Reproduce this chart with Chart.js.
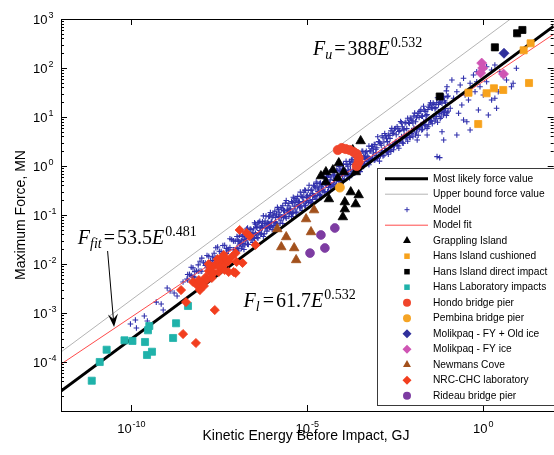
<!DOCTYPE html>
<html><head><meta charset="utf-8">
<script src="https://cdn.jsdelivr.net/npm/chart.js@4.4.1/dist/chart.umd.min.js"></script>
<style>
html,body{margin:0;padding:0;background:#fff;overflow:hidden;width:554px;height:455px;}
#wrap{position:relative;width:560px;height:455px;}
canvas{display:block;}
</style></head><body>
<div id="wrap"><canvas id="c" width="560" height="455"></canvas></div>
<script>
// ---------------- data (E in GJ, F in MN) ----------------
const xTickValues = [1e-10, 1e-5, 1e0];
const xTickExponents = ['-10', '-5', '0'];
const yTickValues = [1e-4, 1e-3, 1e-2, 1e-1, 1e0, 1e1, 1e2, 1e3];
const yTickExponents = ['-4', '-3', '-2', '-1', '0', '1', '2', '3'];

const lineE = [1e-12, 1e2];
const mostLikelyF = [2.55e-5, 715];
const upperBoundF = [1.60e-4, 4496];
const modelFitF = [9.04e-5, 490];

const grapplingIsland = [[3.27e-4,3.24],[1.95e-4,2.12],[7.83e-5,1.15],[5.31e-5,0.828],[3.37e-5,0.755],[1.08e-4,0.755],[2.36e-4,0.755],[2.43e-5,0.625],[3.37e-5,0.471],[7.35e-5,0.569],[1.71e-4,0.294],[2.87e-4,0.256],[4.09e-5,0.212],[1.16e-4,0.184],[2.36e-4,0.167],[1.16e-4,0.132],[1.02e-4,0.091]];
const hansCushioned = [[22.1,319],[14.0,230],[0.379,31.3],[1.24,30.5],[2.0,38.5],[3.68,35.6],[19.9,49.4],[0.716,7.19]];
const hansDirect = [[9.12,511],[12.9,597],[2.13,264],[0.0577,26.2]];
const hansLab = [[7.48e-12,4.15e-5],[1.26e-11,1.0e-4],[1.98e-11,1.78e-4],[6.37e-11,2.77e-4],[1.07e-10,2.69e-4],[2.44e-10,2.56e-4],[2.78e-10,1.39e-4],[3.85e-10,1.62e-4],[2.96e-10,4.44e-4],[3.23e-10,5.43e-4],[1.53e-9,3.09e-4],[1.86e-9,6.17e-4],[4.06e-9,1.39e-3]];
const hondo = [[7.35e-5,2.12],[9.53e-5,2.33],[1.23e-4,2.22],[1.60e-4,2.12],[2.07e-4,1.93],[2.52e-4,1.76],[2.87e-4,1.46],[2.87e-4,1.21],[2.52e-4,1.0]];
const pembina = [[8.36e-5,0.364]];
const molikpaqOld = [[3.87,200]];
const molikpaqFY = [[0.90,126],[0.96,100],[0.84,79.1],[3.75,75.5]];
const newmansCove = [[1.40e-6,5.18e-2],[2.51e-6,3.56e-2],[1.82e-6,2.22e-2],[4.22e-6,2.12e-2],[4.81e-6,1.21e-2],[9.20e-6,8.28e-2],[1.27e-5,4.50e-2],[1.55e-5,0.126]];
const rideau = [[6.04e-5,5.43e-2],[2.43e-5,3.91e-2],[3.15e-5,2.12e-2],[1.19e-5,1.67e-2]];
const nrcLab = [[2.58e-9,2.94e-3],[3.56e-9,1.67e-3],[2.94e-9,3.72e-4],[6.82e-9,2.44e-4],[8.85e-9,2.94e-3],[2.34e-8,1.15e-3],[5.62e-9,4.30e-3],[7.28e-9,3.72e-3],[1.01e-8,4.30e-3],[1.31e-8,5.43e-3],[1.39e-8,4.71e-3],[1.81e-8,8.28e-3],[1.93e-8,5.18e-3],[2.20e-8,6.55e-3],[2.50e-8,9.55e-3],[3.04e-8,6.87e-3],[3.46e-8,8.69e-3],[3.69e-8,1.32e-2],[4.21e-8,1.53e-2],[4.79e-8,1.05e-2],[5.11e-8,1.21e-2],[5.82e-8,6.87e-3],[7.06e-8,1.39e-2],[9.16e-8,6.55e-3],[9.16e-8,1.67e-2],[9.77e-8,1.10e-2],[1.19e-7,4.94e-2],[1.44e-7,1.05e-2],[8.05e-8,6.87e-3],[1.87e-7,4.30e-2],[2.28e-7,3.72e-2],[3.36e-7,2.44e-2],[8.30e-9,4.71e-3],[1.59e-8,7.19e-3],[3.04e-8,1.10e-2],[1.15e-8,3.56e-3],[4.49e-8,7.55e-3],[3.16e-8,8.91e-3],[2.0e-8,6.31e-3],[5.62e-8,1.12e-2],[2.82e-8,1.26e-2],[1.58e-8,1.0e-2]];

const modelLow = [[9.4e-11,5.97e-4],[1.30e-10,7.2e-4],[1.39e-10,4.94e-4],[2.33e-10,8.69e-4],[2.84e-10,6.87e-4],[5.09e-10,1.67e-3],[7.03e-10,1.53e-3],[8.02e-10,1.15e-3],[1.04e-9,3.24e-3],[1.26e-9,2.81e-3],[1.64e-9,2.56e-3],[1.99e-9,2.22e-3],[2.94e-9,4.30e-3],[3.80e-9,4.94e-3]];
const modelBand = [
[3.98e-9,6.1e-3],[3.98e-9,4.7e-3],[5.01e-9,8.6e-3],[5.01e-9,5.8e-3],[6.31e-9,7.0e-3],[6.31e-9,5.4e-3],[7.94e-9,9.6e-3],[7.94e-9,7.1e-3],
[1.0e-8,1.32e-2],[1.0e-8,7.1e-3],[1.26e-8,1.04e-2],[1.26e-8,9.3e-3],[1.58e-8,1.44e-2],[1.58e-8,8.6e-3],[2.0e-8,1.40e-2],[2.0e-8,1.08e-2],
[2.51e-8,2.15e-2],[2.51e-8,1.36e-2],[3.16e-8,1.82e-2],[3.16e-8,1.23e-2],[3.98e-8,2.39e-2],[3.98e-8,1.66e-2],[5.01e-8,2.07e-2],[5.01e-8,1.65e-2],
[6.31e-8,3.27e-2],[6.31e-8,2.16e-2],[7.94e-8,2.97e-2],[7.94e-8,1.96e-2],
[1.0e-7,3.64e-2],[1.0e-7,2.14e-2],[1.12e-7,2.92e-2],[1.12e-7,1.84e-2],[1.26e-7,4.67e-2],[1.26e-7,2.63e-2],[1.41e-7,3.66e-2],[1.41e-7,2.31e-2],
[1.58e-7,3.15e-2],[1.58e-7,1.98e-2],[1.78e-7,4.48e-2],[1.78e-7,2.96e-2],[2.0e-7,5.44e-2],[2.0e-7,2.54e-2],[2.24e-7,4.26e-2],[2.24e-7,3.63e-2],
[2.51e-7,5.05e-2],[2.51e-7,3.19e-2],[2.82e-7,4.34e-2],[2.82e-7,2.74e-2],[3.16e-7,6.95e-2],[3.16e-7,3.33e-2],[3.55e-7,5.57e-2],[3.55e-7,3.94e-2],
[3.98e-7,6.92e-2],[3.98e-7,3.39e-2],[4.47e-7,7.48e-2],[4.47e-7,4.83e-2],[5.01e-7,6.0e-2],[5.01e-7,4.25e-2],[5.62e-7,9.6e-2],[5.62e-7,3.65e-2],
[6.31e-7,7.52e-2],[6.31e-7,5.45e-2],[7.08e-7,6.46e-2],[7.08e-7,4.68e-2],[7.94e-7,9.21e-2],[7.94e-7,6.67e-2],[8.91e-7,0.112],[8.91e-7,5.87e-2],
[1.0e-6,8.76e-2],[1.0e-6,5.04e-2],[1.12e-6,0.104],[1.12e-6,6.11e-2],[1.26e-6,8.92e-2],[1.26e-6,7.25e-2],[1.41e-6,0.143],[1.41e-6,6.23e-2],
[1.58e-6,0.114],[1.58e-6,8.88e-2],[1.78e-6,0.142],[1.78e-6,7.81e-2],[2.0e-6,0.154],[2.0e-6,6.71e-2],[2.24e-6,0.123],[2.24e-6,0.100],
[2.51e-6,0.197],[2.51e-6,8.61e-2],[2.82e-6,0.154],[2.82e-6,0.123],[3.16e-6,0.133],[3.16e-6,0.108],[3.55e-6,0.189],[3.55e-6,9.27e-2],
[3.98e-6,0.230],[3.98e-6,0.112],[4.47e-6,0.180],[4.47e-6,0.133],[5.01e-6,0.213],[5.01e-6,0.115],[5.62e-6,0.183],[5.62e-6,0.163],
[6.31e-6,0.293],[6.31e-6,0.144],[7.08e-6,0.235],[7.08e-6,0.123],[7.94e-6,0.292],[7.94e-6,0.184],[8.91e-6,0.316],[8.91e-6,0.158],
[1.0e-5,0.253],[1.0e-5,0.226],[1.12e-5,0.405],[1.12e-5,0.198],[1.26e-5,0.317],[1.26e-5,0.170],[1.41e-5,0.273],[1.41e-5,0.207],
[1.58e-5,0.389],[1.58e-5,0.245],[1.78e-5,0.472],[1.78e-5,0.211],[2.0e-5,0.370],[2.0e-5,0.300],[2.24e-5,0.438],[2.24e-5,0.264],
[2.51e-5,0.376],[2.51e-5,0.227],[2.82e-5,0.602],[2.82e-5,0.339],[3.16e-5,0.483],[3.16e-5,0.291],[3.55e-5,0.600],[3.55e-5,0.415],
[3.98e-5,0.649],[3.98e-5,0.365],[4.47e-5,0.520],[4.47e-5,0.313],[5.01e-5,0.832],[5.01e-5,0.380],[5.62e-5,0.652],[5.62e-5,0.451],
[6.31e-5,0.560],[6.31e-5,0.388],[7.08e-5,0.798],[7.08e-5,0.552],[7.94e-5,0.969],[7.94e-5,0.486],[8.91e-5,0.759],[8.91e-5,0.417],
[1.0e-4,0.900],[1.0e-4,0.623],[1.12e-4,0.773],[1.12e-4,0.535],[1.26e-4,1.24],[1.26e-4,0.763],[1.41e-4,0.992],[1.41e-4,0.671],
[1.58e-4,1.23],[1.58e-4,0.576],[1.78e-4,1.33],[1.78e-4,0.699],[2.0e-4,1.07],[2.0e-4,0.829],[2.24e-4,1.71],[2.24e-4,0.712],
[2.51e-4,1.34],[2.51e-4,1.02],[2.82e-4,1.15],[2.82e-4,0.893],[3.16e-4,1.64],[3.16e-4,0.767],[3.55e-4,1.99],[3.55e-4,1.15],
[3.98e-4,1.56],[3.98e-4,0.984],[4.47e-4,1.85],[4.47e-4,1.40],[5.01e-4,1.59],[5.01e-4,1.23],[5.62e-4,2.54],[5.62e-4,1.06],
[6.31e-4,2.04],[6.31e-4,1.29],[7.08e-4,2.53],[7.08e-4,1.53],[7.94e-4,2.74],[7.94e-4,1.31],[8.91e-4,2.19],[8.91e-4,1.87],
[1.0e-3,3.94],[1.0e-3,1.46],[1.12e-3,3.09],[1.12e-3,1.26],[1.26e-3,2.65],[1.26e-3,1.88],[1.41e-3,3.78],[1.41e-3,1.61],
[1.58e-3,4.59],[1.58e-3,2.30],[1.78e-3,3.59],[1.78e-3,2.02],[2.0e-3,4.26],[2.0e-3,1.74],[2.24e-3,3.66],[2.24e-3,2.11],
[2.51e-3,5.86],[2.51e-3,2.50],[2.82e-3,4.70],[2.82e-3,2.15],[3.16e-3,5.83],[3.16e-3,3.06],[3.55e-3,6.31],[3.55e-3,2.69],
[3.98e-3,5.06],[3.98e-3,2.31],[4.47e-3,8.09],[4.47e-3,3.45],[5.01e-3,6.34],[5.01e-3,2.97],[5.62e-3,5.45],[5.62e-3,4.23],
[6.31e-3,7.77],[6.31e-3,3.72],[7.08e-3,9.42],[7.08e-3,3.19],[7.94e-3,7.38],[7.94e-3,3.88],[8.91e-3,8.76],[8.91e-3,4.60],
[1.0e-2,7.52],[1.0e-2,3.95],[1.12e-2,12.0],[1.12e-2,5.63],[1.26e-2,9.65],[1.26e-2,4.95],[1.41e-2,12.0],[1.41e-2,4.25],
[1.58e-2,13.0],[1.58e-2,6.35],[1.78e-2,10.4],[1.78e-2,5.45],[2.0e-2,16.6],[2.0e-2,7.78],[2.24e-2,13.0],[2.24e-2,6.83],
[2.51e-2,11.2],[2.51e-2,5.87],[2.82e-2,15.9],[2.82e-2,7.13],[3.16e-2,19.4],[3.16e-2,8.45],[3.55e-2,15.2],[3.55e-2,7.26],
[3.98e-2,18.0],[3.98e-2,10.4],[4.47e-2,15.5],[4.47e-2,9.10],[5.01e-2,24.7],[5.01e-2,7.82],[5.62e-2,19.8],[5.62e-2,11.7],
[6.31e-2,24.6],[6.31e-2,10.0],[7.08e-2,26.6],[7.08e-2,14.3],[7.94e-2,21.3],[7.94e-2,12.6],[8.91e-2,34.1],[8.91e-2,10.8],
[0.1,26.8],[0.1,13.1]];
const modelBand2 = [
[4.47e-9,6.19e-3],[5.62e-9,8.32e-3],[5.62e-9,5.50e-3],[7.08e-9,7.22e-3],[8.91e-9,1.14e-2],[8.91e-9,7.18e-3],[1.12e-8,1.06e-2],
[1.41e-8,1.49e-2],[1.41e-8,8.37e-3],[1.78e-8,1.18e-2],[2.24e-8,1.66e-2],[2.24e-8,1.17e-2],[2.82e-8,2.22e-2],[3.55e-8,1.80e-2],
[3.55e-8,1.27e-2],[4.47e-8,2.42e-2],[5.62e-8,2.00e-2],[5.62e-8,1.87e-2],[7.08e-8,3.16e-2],[8.91e-8,2.93e-2],[8.91e-8,1.94e-2],
[1.06e-7,3.11e-2],[1.06e-7,2.06e-2],[1.19e-7,3.87e-2],[1.19e-7,2.55e-2],[1.33e-7,2.96e-2],[1.33e-7,2.10e-2],[1.50e-7,3.94e-2],[1.50e-7,2.60e-2],
[1.68e-7,3.63e-2],[1.68e-7,2.45e-2],[1.88e-7,5.17e-2],[1.88e-7,3.42e-2],[2.11e-7,3.87e-2],[2.11e-7,2.50e-2],[2.37e-7,5.15e-2],[2.37e-7,3.40e-2],
[2.66e-7,3.94e-2],[2.66e-7,3.28e-2],[2.99e-7,5.25e-2],[2.99e-7,3.39e-2],[3.35e-7,6.51e-2],[3.35e-7,4.21e-2],[3.76e-7,5.73e-2],[3.76e-7,3.45e-2],
[4.22e-7,7.11e-2],[4.22e-7,4.29e-2],[4.73e-7,5.45e-2],[4.73e-7,4.04e-2],[5.31e-7,7.25e-2],[5.31e-7,5.63e-2],[5.96e-7,6.67e-2],[5.96e-7,4.11e-2],
[6.68e-7,9.51e-2],[6.68e-7,5.60e-2],[7.50e-7,7.11e-2],[7.50e-7,5.40e-2],[8.41e-7,9.47e-2],[8.41e-7,5.57e-2],[9.44e-7,7.25e-2],[9.44e-7,6.92e-2],
[1.06e-6,9.65e-2],[1.06e-6,5.68e-2],[1.19e-6,0.120],[1.19e-6,7.05e-2],[1.33e-6,0.105],[1.33e-6,6.65e-2],[1.50e-6,0.131],[1.50e-6,9.26e-2],
[1.68e-6,0.100],[1.68e-6,6.77e-2],[1.88e-6,0.133],[1.88e-6,9.22e-2],[2.11e-6,0.123],[2.11e-6,8.89e-2],[2.37e-6,0.175],[2.37e-6,9.18e-2],
[2.66e-6,0.131],[2.66e-6,0.114],[2.99e-6,0.174],[2.99e-6,9.35e-2],[3.35e-6,0.133],[3.35e-6,0.116],[3.76e-6,0.177],[3.76e-6,0.109],
[4.22e-6,0.220],[4.22e-6,0.152],[4.73e-6,0.194],[4.73e-6,0.111],[5.31e-6,0.240],[5.31e-6,0.152],[5.96e-6,0.184],[5.96e-6,0.146],
[6.68e-6,0.245],[6.68e-6,0.151],[7.50e-6,0.226],[7.50e-6,0.188],[8.41e-6,0.322],[8.41e-6,0.154],[9.44e-6,0.241],[9.44e-6,0.191],
[1.06e-5,0.320],[1.06e-5,0.180],[1.19e-5,0.245],[1.19e-5,0.251],[1.33e-5,0.326],[1.33e-5,0.183],[1.50e-5,0.405],[1.50e-5,0.250],
[1.68e-5,0.356],[1.68e-5,0.241],[1.88e-5,0.442],[1.88e-5,0.249],[2.11e-5,0.339],[2.11e-5,0.309],[2.37e-5,0.450],[2.37e-5,0.253],
[2.66e-5,0.415],[2.66e-5,0.315],[2.99e-5,0.591],[2.99e-5,0.296],[3.35e-5,0.442],[3.35e-5,0.413],[3.76e-5,0.589],[3.76e-5,0.302],
[4.22e-5,0.451],[4.22e-5,0.411],[4.73e-5,0.600],[4.73e-5,0.396],[5.31e-5,0.745],[5.31e-5,0.409],[5.96e-5,0.655],[5.96e-5,0.508],
[6.68e-5,0.813],[6.68e-5,0.417],[7.50e-5,0.623],[7.50e-5,0.518],[8.41e-5,0.829],[8.41e-5,0.488],[9.44e-5,0.763],[9.44e-5,0.680],
[1.06e-4,1.09],[1.06e-4,0.497],[1.19e-4,0.814],[1.19e-4,0.677],[1.33e-4,1.08],[1.33e-4,0.652],[1.50e-4,0.829],[1.50e-4,0.674],
[1.68e-4,1.10],[1.68e-4,0.837],[1.88e-4,1.37],[1.88e-4,0.686],[2.11e-4,1.20],[2.11e-4,0.853],[2.37e-4,1.50],[2.37e-4,0.803],
[2.66e-4,1.14],[2.66e-4,1.12],[2.99e-4,1.52],[2.99e-4,0.818],[3.35e-4,1.40],[3.35e-4,1.11],[3.76e-4,2.00],[3.76e-4,1.07],
[4.22e-4,1.50],[4.22e-4,1.11],[4.73e-4,1.99],[4.73e-4,1.38],[5.31e-4,1.52],[5.31e-4,1.13],[5.96e-4,2.03],[5.96e-4,1.40],
[6.68e-4,2.52],[6.68e-4,1.32],[7.50e-4,2.21],[7.50e-4,1.84],[8.41e-4,2.75],[8.41e-4,1.35],[9.44e-4,2.36],[9.44e-4,1.63],
[1.06e-3,3.14],[1.06e-3,1.58],[1.19e-3,2.89],[1.19e-3,1.63],[1.33e-3,4.13],[1.33e-3,2.02],[1.50e-3,3.09],[1.50e-3,1.66],
[1.68e-3,4.11],[1.68e-3,2.06],[1.88e-3,3.15],[1.88e-3,1.94],[2.11e-3,4.19],[2.11e-3,2.70],[2.37e-3,5.20],[2.37e-3,1.98],
[2.66e-3,4.57],[2.66e-3,2.69],[2.99e-3,5.67],[2.99e-3,2.59],[3.35e-3,4.34],[3.35e-3,3.15],[3.76e-3,5.78],[3.76e-3,2.58],
[4.22e-3,5.32],[4.22e-3,3.21],[4.73e-3,7.59],[4.73e-3,3.98],[5.31e-3,5.68],[5.31e-3,2.91],[5.96e-3,7.55],[5.96e-3,3.96],
[6.68e-3,5.78],[6.68e-3,3.82],[7.50e-3,7.70],[7.50e-3,4.64],[8.41e-3,9.56],[8.41e-3,3.81],[9.44e-3,8.40],[9.44e-3,4.72],
[1.06e-2,10.4],[1.06e-2,5.87],[1.19e-2,7.99],[1.19e-2,4.29],[1.33e-2,10.6],[1.33e-2,5.84],[1.50e-2,9.78],[1.50e-2,5.63],
[1.68e-2,14.0],[1.68e-2,6.83],[1.88e-2,10.4],[1.88e-2,5.61],[2.11e-2,13.9],[2.11e-2,6.96],[2.37e-2,10.6],[2.37e-2,8.65],
[2.66e-2,14.2],[2.66e-2,6.32],[2.99e-2,17.6],[2.99e-2,8.61],[3.35e-2,15.4],[3.35e-2,8.30],[3.76e-2,19.2],[3.76e-2,10.1],
[4.22e-2,14.7],[4.22e-2,8.26],[4.73e-2,19.5],[4.73e-2,10.3],[5.31e-2,18.0],[5.31e-2,12.7],[5.96e-2,25.7],[5.96e-2,9.31],
[6.68e-2,19.2],[6.68e-2,12.7],[7.50e-2,25.5],[7.50e-2,12.2],[8.41e-2,19.6],[8.41e-2,14.8],[9.44e-2,26.0],[9.44e-2,12.2]];
const modelHigh = [[0.0927,41.5],[0.128,56.9],[0.177,32.8],[0.220,45.0],[0.274,61.7],[0.421,48.7],[0.525,71.9],[0.650,84.0],[0.90,91.0],[1.24,106],[1.72,91.0],[2.13,115],[2.95,84.0],[4.56,56.9],[6.30,41.5],[8.71,98.6],[0.805,41.5],[0.582,32.8],[0.379,22.2],[1.24,52.5],[1.72,22.2],[2.13,24.1],[2.66,32.8],[7.03,48.7],[0.726,13.9],[1.39,11.0],[2.38,15.1],[0.340,8.02],[0.421,5.43],[0.177,4.30],[0.0670,5.01],[0.0748,3.40],[0.0577,1.48],[0.115,15.1],[0.198,11.9],[0.0748,11.0],[0.060,20.5],[0.143,24.1],[0.245,17.6],[1.0,28.1],[3.68,66.4],[0.650,52.5],[0.304,28.1],[0.0484,1.55],[0.274,8.69],[0.0253,4.30],[0.0132,3.40]];

// annotation anchors (data coordinates)
const fuAnchor = [1.45e-5, 184];
const ffitAnchor = [3.01e-12, 2.56e-2];
const flAnchor = [1.54e-7, 1.32e-3];
const arrowTail = [2.11e-11, 1.84e-2];
const arrowTip = [3.22e-11, 5.18e-4];

// ---------------- build ----------------
const toXY = a => a.map(p => ({x: p[0], y: p[1]}));
const lineXY = f => lineE.map((e, i) => ({x: e, y: f[i]}));

function lineDs(label, f, color, w, order) {
  return {label, data: lineXY(f), showLine: true, borderColor: color, backgroundColor: color,
    borderWidth: w, pointRadius: 0, pointHoverRadius: 0, order, legendKind: 'line'};
}
function ptDs(label, pts, style, r, color, order, lr) {
  return {label, data: toXY(pts), showLine: false, pointStyle: style, pointRadius: r, pointHoverRadius: r,
    backgroundColor: color, borderColor: color, pointBorderWidth: style === 'cross' ? 1.1 : 0.8,
    order, legendKind: 'point', legendRadius: lr};
}

const dsMostLikely = lineDs('Most likely force value', mostLikelyF, '#000000', 3, 17);
const dsUpper = lineDs('Upper bound force value', upperBoundF, '#b4b4b4', 1, 20);
const dsModel = ptDs('Model', modelLow.concat(modelBand, modelBand2, modelHigh), 'cross', 2.8, 'rgb(48,48,172)', 19, 2.5);
const dsFit = lineDs('Model fit', modelFitF, '#ff4a4a', 1, 18);
const dsGrap = ptDs('Grappling Island', grapplingIsland, 'triangle', 5.5, '#000000', 6, 4.6);
const dsHansC = ptDs('Hans Island cushioned', hansCushioned, 'rect', 5, '#f7a21c', 3, 3.9);
const dsHansD = ptDs('Hans Island direct impact', hansDirect, 'rect', 5, '#000000', 2, 3.9);
const dsHansL = ptDs('Hans Laboratory impacts', hansLab, 'rect', 5, '#1fb2aa', 8, 3.9);
const dsHondo = ptDs('Hondo bridge pier', hondo, 'circle', 4.6, '#f0452b', 5, 4);
const dsPemb = ptDs('Pembina bridge pier', pembina, 'circle', 4.6, '#f5a425', 4, 4);
const dsMolO = ptDs('Molikpaq - FY + Old ice', molikpaqOld, 'rectRot', 5, '#30309c', 1, 4.5);
const dsMolF = ptDs('Molikpaq - FY ice', molikpaqFY, 'rectRot', 5, '#cf55b4', 0, 4.5);
const dsNew = ptDs('Newmans Cove', newmansCove, 'triangle', 5.5, '#a2501c', 10, 4.6);
const dsNrc = ptDs('NRC-CHC laboratory', nrcLab, 'rectRot', 4.6, '#f23e1e', 7, 4.5);
const dsRid = ptDs('Rideau bridge pier', rideau, 'circle', 4.4, '#7d3ca2', 9, 4);

const legendOrder = [dsMostLikely, dsUpper, dsModel, dsFit, dsGrap, dsHansC, dsHansD, dsHansL, dsHondo, dsPemb, dsMolO, dsMolF, dsNew, dsNrc, dsRid];

const SANS = '"Liberation Sans", Arial, Helvetica, sans-serif';
const SERIF = '"Liberation Serif", "Times New Roman", serif';

function drawMarker(ctx, style, x, y, r, color) {
  ctx.fillStyle = color; ctx.strokeStyle = color; ctx.lineWidth = 1;
  ctx.beginPath();
  if (style === 'triangle') {
    ctx.moveTo(x, y - r); ctx.lineTo(x + r * 0.866, y + r * 0.5); ctx.lineTo(x - r * 0.866, y + r * 0.5);
    ctx.closePath(); ctx.fill();
  } else if (style === 'rect') {
    const s = r * Math.SQRT1_2; ctx.rect(x - s, y - s, 2 * s, 2 * s); ctx.fill();
  } else if (style === 'circle') {
    ctx.arc(x, y, r, 0, Math.PI * 2); ctx.fill();
  } else if (style === 'rectRot') {
    ctx.moveTo(x, y - r); ctx.lineTo(x + r, y); ctx.lineTo(x, y + r); ctx.lineTo(x - r, y);
    ctx.closePath(); ctx.fill();
  } else if (style === 'cross') {
    ctx.moveTo(x - r, y); ctx.lineTo(x + r, y); ctx.moveTo(x, y - r); ctx.lineTo(x, y + r); ctx.stroke();
  }
}

function drawPow(ctx, exp, x, y, align) {
  ctx.font = '13px ' + SANS;
  const w10 = ctx.measureText('10').width;
  ctx.font = '9px ' + SANS;
  const we = ctx.measureText(exp).width;
  let sx = align === 'center' ? x - (w10 + 1 + we) / 2 : x;
  ctx.font = '13px ' + SANS;
  ctx.fillText('10', sx, y);
  ctx.font = '9px ' + SANS;
  ctx.fillText(exp, sx + w10 + 1, y - 6.5);
}

const framePlugin = {
  id: 'frame',
  afterDatasetsDraw(chart) {
    const {ctx, chartArea: a, scales: {x, y}} = chart;
    ctx.save();
    ctx.strokeStyle = '#000'; ctx.lineWidth = 1;
    const seg = (x1, y1, x2, y2) => { ctx.beginPath(); ctx.moveTo(x1, y1); ctx.lineTo(x2, y2); ctx.stroke(); };
    for (let p = -5; p <= 3; p++) {
      for (let m = 1; m <= 9; m++) {
        const v = m * Math.pow(10, p);
        if (v > 1000.001) break;
        const py = Math.round(y.getPixelForValue(v)) + 0.5;
        const len = m === 1 ? 6 : 3;
        seg(a.left, py, a.left + len, py);
        seg(a.right, py, a.right - len, py);
      }
    }
    xTickValues.forEach(v => {
      const px = Math.round(x.getPixelForValue(v)) + 0.5;
      seg(px, a.bottom, px, a.bottom - 6);
      seg(px, a.top, px, a.top + 6);
    });
    ctx.strokeRect(Math.round(a.left) + 0.5, Math.round(a.top) + 0.5, Math.round(a.right - a.left), Math.round(a.bottom - a.top));
    ctx.fillStyle = '#000'; ctx.textBaseline = 'alphabetic'; ctx.textAlign = 'left';
    yTickValues.forEach((v, i) => {
      const py = y.getPixelForValue(v);
      drawPow(ctx, yTickExponents[i], a.left - 28, py + 5, 'left');
    });
    xTickValues.forEach((v, i) => {
      const px = x.getPixelForValue(v);
      drawPow(ctx, xTickExponents[i], px, a.bottom + 22, 'center');
    });
    ctx.font = '14px ' + SANS;
    ctx.textAlign = 'center';
    ctx.fillText('Kinetic Energy Before Impact, GJ', a.left + 245, a.bottom + 29);
    ctx.save();
    ctx.translate(a.left - 36.5, (a.top + a.bottom) / 2);
    ctx.rotate(-Math.PI / 2);
    ctx.fillText('Maximum Force, MN', 0, 0);
    ctx.restore();
    ctx.restore();
  }
};

function drawMath(ctx, x, y, parts) {
  let cx = x;
  ctx.textAlign = 'left'; ctx.textBaseline = 'alphabetic'; ctx.fillStyle = '#000';
  for (const p of parts) {
    cx += p.g || 0;
    ctx.font = p.f;
    ctx.fillText(p.t, cx, y + (p.dy || 0));
    cx += ctx.measureText(p.t).width;
  }
}

const annotPlugin = {
  id: 'annot',
  afterDraw(chart) {
    const {ctx, scales: {x, y}} = chart;
    const P = d => [x.getPixelForValue(d[0]), y.getPixelForValue(d[1])];
    const I = 'italic 20px ' + SERIF, R = '20px ' + SERIF, Is = 'italic 14px ' + SERIF, Rs = '14px ' + SERIF;
    ctx.save();
    let [ax, ay] = P(fuAnchor);
    drawMath(ctx, ax, ay, [{t:'F',f:I},{t:'u',f:Is,dy:4},{t:'=',f:R,g:2},{t:'388',f:R,g:2},{t:'E',f:I},{t:'0.532',f:Rs,dy:-8,g:1}]);
    [ax, ay] = P(ffitAnchor);
    drawMath(ctx, ax, ay, [{t:'F',f:I},{t:'fit',f:Is,dy:4},{t:'=',f:R,g:2},{t:'53.5',f:R,g:2},{t:'E',f:I},{t:'0.481',f:Rs,dy:-8,g:1}]);
    [ax, ay] = P(flAnchor);
    drawMath(ctx, ax, ay, [{t:'F',f:I},{t:'l',f:Is,dy:4},{t:'=',f:R,g:3},{t:'61.7',f:R,g:2},{t:'E',f:I},{t:'0.532',f:Rs,dy:-8,g:1}]);
    const [tx, ty] = P(arrowTail), [hx, hy] = P(arrowTip);
    const ang = Math.atan2(hy - ty, hx - tx);
    const L = 13, W = 5, N = 8;
    const bx = hx - L * Math.cos(ang), by = hy - L * Math.sin(ang);
    const nx = hx - N * Math.cos(ang), ny = hy - N * Math.sin(ang);
    const px = -Math.sin(ang), py = Math.cos(ang);
    ctx.strokeStyle = '#000'; ctx.fillStyle = '#000'; ctx.lineWidth = 1;
    ctx.beginPath(); ctx.moveTo(tx, ty); ctx.lineTo(nx, ny); ctx.stroke();
    ctx.beginPath(); ctx.moveTo(hx, hy); ctx.lineTo(bx + W * px, by + W * py); ctx.lineTo(nx, ny); ctx.lineTo(bx - W * px, by - W * py); ctx.closePath(); ctx.fill();
    ctx.restore();
  }
};

const legendPlugin = {
  id: 'mlegend',
  afterDraw(chart) {
    const {ctx, chartArea: a} = chart;
    const left = a.left + 316, top = a.top + 149, h = 237;
    ctx.save();
    ctx.fillStyle = '#fff';
    ctx.fillRect(left, top, 220, h);
    ctx.strokeStyle = '#3a3a3a'; ctx.lineWidth = 1;
    ctx.strokeRect(left + 0.5, top + 0.5, 220, h);
    ctx.font = '10.2px ' + SANS; ctx.textBaseline = 'middle'; ctx.textAlign = 'left';
    legendOrder.forEach((d, i) => {
      const ry = top + 10.7 + i * 15.5;
      if (d.legendKind === 'line') {
        ctx.strokeStyle = d.borderColor; ctx.lineWidth = d.borderWidth;
        ctx.beginPath(); ctx.moveTo(left + 8, ry); ctx.lineTo(left + 51, ry); ctx.stroke();
      } else {
        drawMarker(ctx, d.pointStyle, left + 30, ry, d.legendRadius, d.backgroundColor);
      }
      ctx.fillStyle = '#000';
      ctx.fillText(d.label, left + 56, ry);
    });
    ctx.restore();
  }
};

new Chart(document.getElementById('c'), {
  type: 'scatter',
  data: {datasets: [dsUpper, dsModel, dsFit, dsMostLikely, dsNew, dsRid, dsNrc, dsHansL, dsGrap, dsHondo, dsPemb, dsHansC, dsHansD, dsMolO, dsMolF]},
  options: {
    responsive: false, animation: false, devicePixelRatio: 1, events: [],
    layout: {padding: {left: 61, right: 3, top: 19, bottom: 44}},
    plugins: {legend: {display: false}, tooltip: {enabled: false}},
    scales: {
      x: {type: 'logarithmic', min: 1e-12, max: 1e2, display: false},
      y: {type: 'logarithmic', min: 1e-5, max: 1e3, display: false}
    }
  },
  plugins: [framePlugin, legendPlugin, annotPlugin]
});
</script></body></html>
